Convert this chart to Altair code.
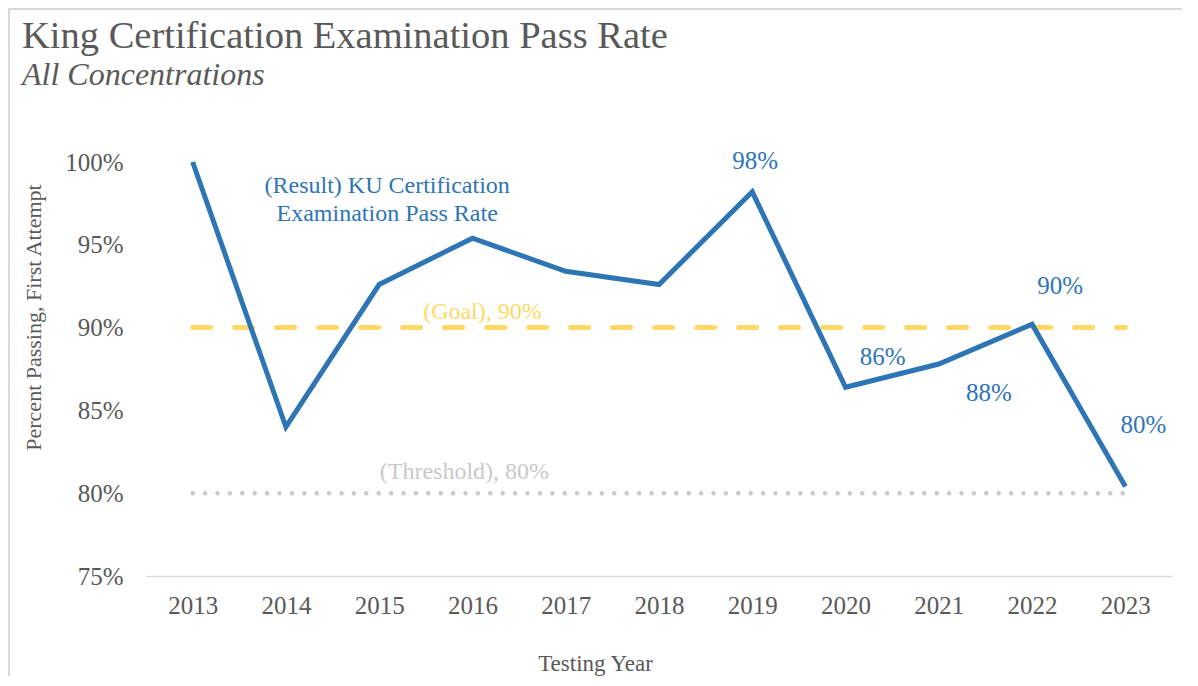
import altair as alt
import pandas as pd

years = ["2013", "2014", "2015", "2016", "2017", "2018", "2019", "2020", "2021", "2022", "2023"]
result = [1.000, 0.840, 0.926, 0.954, 0.934, 0.926, 0.982, 0.864, 0.878, 0.902, 0.804]
goal = [0.90, 0.90, 0.90, 0.90, 0.90, 0.90, 0.90, 0.90, 0.90, 0.90, 0.90]
threshold = [0.80, 0.80, 0.80, 0.80, 0.80, 0.80, 0.80, 0.80, 0.80, 0.80, 0.80]
y_ticks = [0.75, 0.80, 0.85, 0.90, 0.95, 1.00]

df = pd.DataFrame({"year": years, "result": result, "goal": goal, "threshold": threshold})

FONT = "Liberation Serif"
GREY = "#595959"
BLUE = "#2E75B6"
GOLD = "#FFD966"
LGREY = "#C9C9C9"

x_enc = alt.X(
    "year:O",
    scale=alt.Scale(type="point", padding=0.5),
    axis=alt.Axis(
        title="Testing Year", titleFont=FONT, titleFontSize=23, titleFontWeight="normal",
        titleColor=GREY, titleX=449, titleY=87, titleBaseline="middle",
        labelFont=FONT, labelFontSize=25, labelColor=GREY, labelAngle=0, labelPadding=17,
        ticks=False, domain=True, domainColor="#D9D9D9", domainWidth=1.5, grid=False,
    ),
)


def y_enc(field):
    return alt.Y(
        f"{field}:Q",
        scale=alt.Scale(domain=[0.75, 1.0], nice=False, zero=False),
        axis=alt.Axis(
            title="Percent Passing, First Attempt", titleFont=FONT, titleFontSize=22,
            titleFontWeight="normal", titleColor=GREY, titleX=-113, titleY=155,
            titleBaseline="middle", titleAlign="center", titleAngle=-90,
            values=y_ticks, format=".0%", labelFont=FONT, labelFontSize=25,
            labelColor=GREY, labelPadding=23, ticks=False, domain=False, grid=False,
        ),
    )


base = alt.Chart(df)

line_result = base.mark_line(color=BLUE, strokeWidth=5, strokeJoin="miter", clip=False).encode(
    x=x_enc, y=y_enc("result")
)
line_goal = base.mark_line(color=GOLD, strokeWidth=5, strokeDash=[18, 24], strokeCap="round").encode(
    x=x_enc, y=y_enc("goal")
)
line_thr = base.mark_line(color=LGREY, strokeWidth=4.5, strokeDash=[0.1, 12.3], strokeCap="round").encode(
    x=x_enc, y=y_enc("threshold")
)

label_offsets = {"2019": (3, -31), "2020": (37, -30), "2021": (50, 29), "2022": (28, -38), "2023": (18, -62)}
labels = []
for yr, (dx, dy) in label_offsets.items():
    labels.append(
        base.transform_filter(alt.datum.year == yr)
        .mark_text(font=FONT, fontSize=25, color=BLUE, dx=dx, dy=dy, baseline="middle")
        .encode(x=x_enc, y=y_enc("result"), text=alt.Text("result:Q", format=".0%"))
    )

ann_result = base.transform_filter(alt.datum.year == "2015").mark_text(
    font=FONT, fontSize=24, color=BLUE, dx=8, dy=-99, lineBreak="\n", lineHeight=28, baseline="middle"
).encode(x=x_enc, y=y_enc("result"), text=alt.value("(Result) KU Certification\nExamination Pass Rate"))

ann_goal = base.transform_filter(alt.datum.year == "2016").mark_text(
    font=FONT, fontSize=24, color=GOLD, dx=10, dy=-16, baseline="middle"
).encode(x=x_enc, y=y_enc("goal"), text=alt.value("(Goal), 90%"))

ann_thr = base.transform_filter(alt.datum.year == "2016").mark_text(
    font=FONT, fontSize=24, color=LGREY, dx=-8, dy=-21, baseline="middle"
).encode(x=x_enc, y=y_enc("threshold"), text=alt.value("(Threshold), 80%"))

border_left = base.mark_rule(color="#D9D9D9", strokeWidth=2).encode(
    x=alt.value(-137), y=alt.value(-154), y2=alt.value(530)
)
border_top = base.mark_rule(color="#D9D9D9", strokeWidth=2).encode(
    x=alt.value(-138), x2=alt.value(1050), y=alt.value(-153)
)

chart = alt.layer(
    border_left, border_top, line_goal, line_thr, line_result, *labels, ann_result, ann_goal, ann_thr
).properties(
    width=1026,
    height=414,
    autosize=alt.AutoSizeParams(type="none"),
    padding={"left": 138, "top": 154, "right": 10, "bottom": 100},
    title=alt.Title(
        "King Certification Examination Pass Rate",
        subtitle="All Concentrations",
        anchor="start", frame="group", dx=-124, dy=89,
        font=FONT, fontSize=38.5, fontWeight="normal", color=GREY,
        subtitleFont=FONT, subtitleFontSize=32, subtitleFontStyle="italic", subtitleColor=GREY,
        subtitlePadding=4,
    ),
).configure_view(stroke=None)

chart.save("out.html", embed_options={"renderer": "svg", "actions": False})
